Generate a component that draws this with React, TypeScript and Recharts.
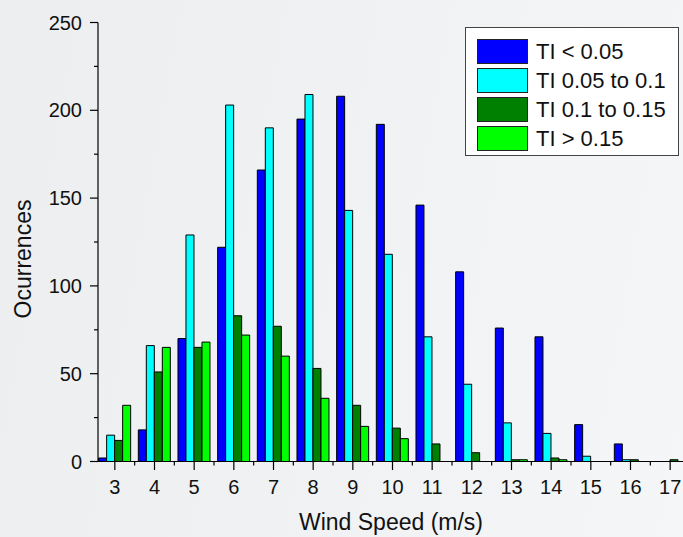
import { BarChart, Bar, XAxis, YAxis } from 'recharts';

const speeds = ['3', '4', '5', '6', '7', '8', '9', '10', '11', '12', '13', '14', '15', '16', '17'];
const tiBelow005 = [2, 18, 70, 122, 166, 195, 208, 192, 146, 108, 76, 71, 21, 10, 0];
const ti005to01 = [15, 66, 129, 203, 190, 209, 143, 118, 71, 44, 22, 16, 3, 1, 0];
const ti01to015 = [12, 51, 65, 83, 77, 53, 32, 19, 10, 5, 1, 2, 0, 1, 1];
const tiAbove015 = [32, 65, 68, 72, 60, 36, 20, 13, 0, 0, 1, 1, 0, 0, 0];
const yTicks = [0, 25, 50, 75, 100, 125, 150, 175, 200, 225, 250];
const seriesNames = ['TI < 0.05', 'TI 0.05 to 0.1', 'TI 0.1 to 0.15', 'TI > 0.15'];
const seriesColors = ['#0000ff', '#00ffff', '#008000', '#00ff00'];

const data = speeds.map((s, i) => ({
  speed: s,
  a: tiBelow005[i],
  b: ti005to01[i],
  c: ti01to015[i],
  d: tiAbove015[i],
}));

const FONT = '"Liberation Sans", Arial, sans-serif';

function YTick(props: any) {
  const { x, y, payload } = props;
  const major = payload.value % 50 === 0;
  return (
    <g>
      <line x1={x} x2={x - (major ? 8 : 4)} y1={y} y2={y} stroke="#000" strokeWidth={1.2} />
      {major && (
        <text x={x - 16} y={y} dy="0.35em" textAnchor="end" fontSize={20} fill="#111" fontFamily={FONT}>
          {payload.value}
        </text>
      )}
    </g>
  );
}

function XTick(props: any) {
  const { x, y, payload } = props;
  const half = payload && payload.offset > 0 ? payload.offset : 19.83;
  return (
    <g>
      <line x1={x} x2={x} y1={y} y2={y + 8.5} stroke="#000" strokeWidth={1.2} />
      <line x1={x + half} x2={x + half} y1={y} y2={y + 4} stroke="#000" strokeWidth={1.2} />
      <text x={x} y={y + 32} textAnchor="middle" fontSize={20} fill="#111" fontFamily={FONT}>
        {payload.value}
      </text>
    </g>
  );
}

function YTitle(props: any) {
  const { viewBox } = props;
  const cx = viewBox.x + 23;
  const cy = viewBox.y + viewBox.height / 2 + 17;
  return (
    <text x={cx} y={cy} transform={`rotate(-90 ${cx} ${cy})`} textAnchor="middle" dominantBaseline="central"
      fontSize={23} fill="#111" fontFamily={FONT}>
      Ocurrences
    </text>
  );
}

function XTitle(props: any) {
  const { viewBox } = props;
  return (
    <text x={viewBox.x + viewBox.width / 2 - 3} y={viewBox.y + 68} textAnchor="middle" fontSize={23} fill="#111" fontFamily={FONT}>
      Wind Speed (m/s)
    </text>
  );
}

function LegendBox() {
  return (
    <div style={{ position: 'absolute', left: 465, top: 27, width: 201, height: 118, background: '#fff', border: '1px solid #444', paddingTop: 9, paddingLeft: 11 }}>
      {seriesNames.map((name, i) => (
        <div key={name} style={{ display: 'flex', alignItems: 'center', height: 29 }}>
          <span style={{ width: 49, height: 23, background: seriesColors[i], border: '1px solid #222', display: 'inline-block' }} />
          <span style={{ marginLeft: 8, fontSize: 22, color: '#111', fontFamily: FONT, lineHeight: '25px' }}>{name}</span>
        </div>
      ))}
    </div>
  );
}

export default function App() {
  return (
    <div style={{ position: 'fixed', left: 0, top: 0, width: 683, height: 537, overflow: 'hidden',
      background: 'linear-gradient(100deg, #eceef0 0%, #f0f1f3 45%, #f5f6f8 100%)' }}>
      <BarChart width={690} height={537} data={data} margin={{ top: 22.5, right: 0, bottom: 0, left: 0 }}
        barCategoryGap={3.65} barGap={0}>
        <XAxis dataKey="speed" height={75.5} padding={{ left: -3, right: 0 }} axisLine={{ stroke: '#000', strokeWidth: 1.2 }}
          tickLine={false} tickSize={0} tickMargin={0} interval={0} tick={<XTick />} label={<XTitle />} />
        <YAxis width={98} domain={[0, 250]} ticks={yTicks} interval={0} axisLine={{ stroke: '#000', strokeWidth: 1.2 }}
          tickLine={false} tickSize={0} tickMargin={0} tick={<YTick />} label={<YTitle />} />
        {seriesNames.map((name, i) => (
          <Bar key={name} dataKey={['a', 'b', 'c', 'd'][i]} name={name} fill={seriesColors[i]} stroke="#000"
            strokeWidth={1} isAnimationActive={false} />
        ))}
      </BarChart>
      <LegendBox />
    </div>
  );
}
